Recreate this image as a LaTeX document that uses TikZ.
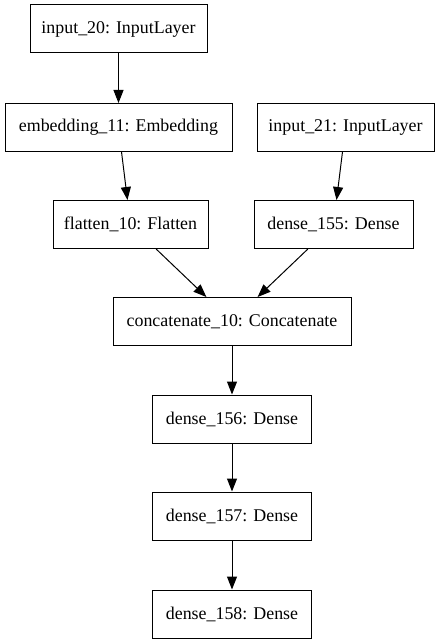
\documentclass[tikz,border=0pt]{standalone}
\usepackage{fontspec}
\setmainfont{Liberation Serif}
\usetikzlibrary{positioning, arrows.meta}

\tikzset{
	layer/.style={draw, line width=1pt, minimum height=48pt, inner sep=0pt, font=\fontsize{17.9}{20}\selectfont},
	flow/.style={-{Triangle[length=13pt, width=10pt]}, line width=1pt}
}

\begin{document}
\begin{tikzpicture}[x=1pt, y=-1pt]
		\useasboundingbox (0, 0) rectangle (439, 644);
		\node[layer, minimum width=177pt] (in20) at (118.5, 29) {input\_20: InputLayer};
		\node[layer, minimum width=227pt] (emb11) at (118.5, 127.5) {embedding\_11: Embedding};
		\node[layer, minimum width=177pt] (in21) at (345.5, 127.5) {input\_21: InputLayer};
		\node[layer, minimum width=155pt] (flat10) at (130.5, 224.5) {flatten\_10: Flatten};
		\node[layer, minimum width=159pt] (d155) at (333.5, 224.5) {dense\_155: Dense};
		\node[layer, minimum width=238pt] (cat10) at (232, 321.5) {concatenate\_10: Concatenate};
		\node[layer, minimum width=159pt] (d156) at (232, 419) {dense\_156: Dense};
		\node[layer, minimum width=159pt] (d157) at (232, 516) {dense\_157: Dense};
		\node[layer, minimum width=159pt] (d158) at (232, 614) {dense\_158: Dense};
		\draw[flow] (in20) -- (emb11);
		\draw[flow] (emb11) -- (flat10);
		\draw[flow] (in21) -- (d155);
		\draw[flow] (flat10) -- (cat10);
		\draw[flow] (d155) -- (cat10);
		\draw[flow] (cat10) -- (d156);
		\draw[flow] (d156) -- (d157);
		\draw[flow] (d157) -- (d158);
	\end{tikzpicture}
\end{document}
